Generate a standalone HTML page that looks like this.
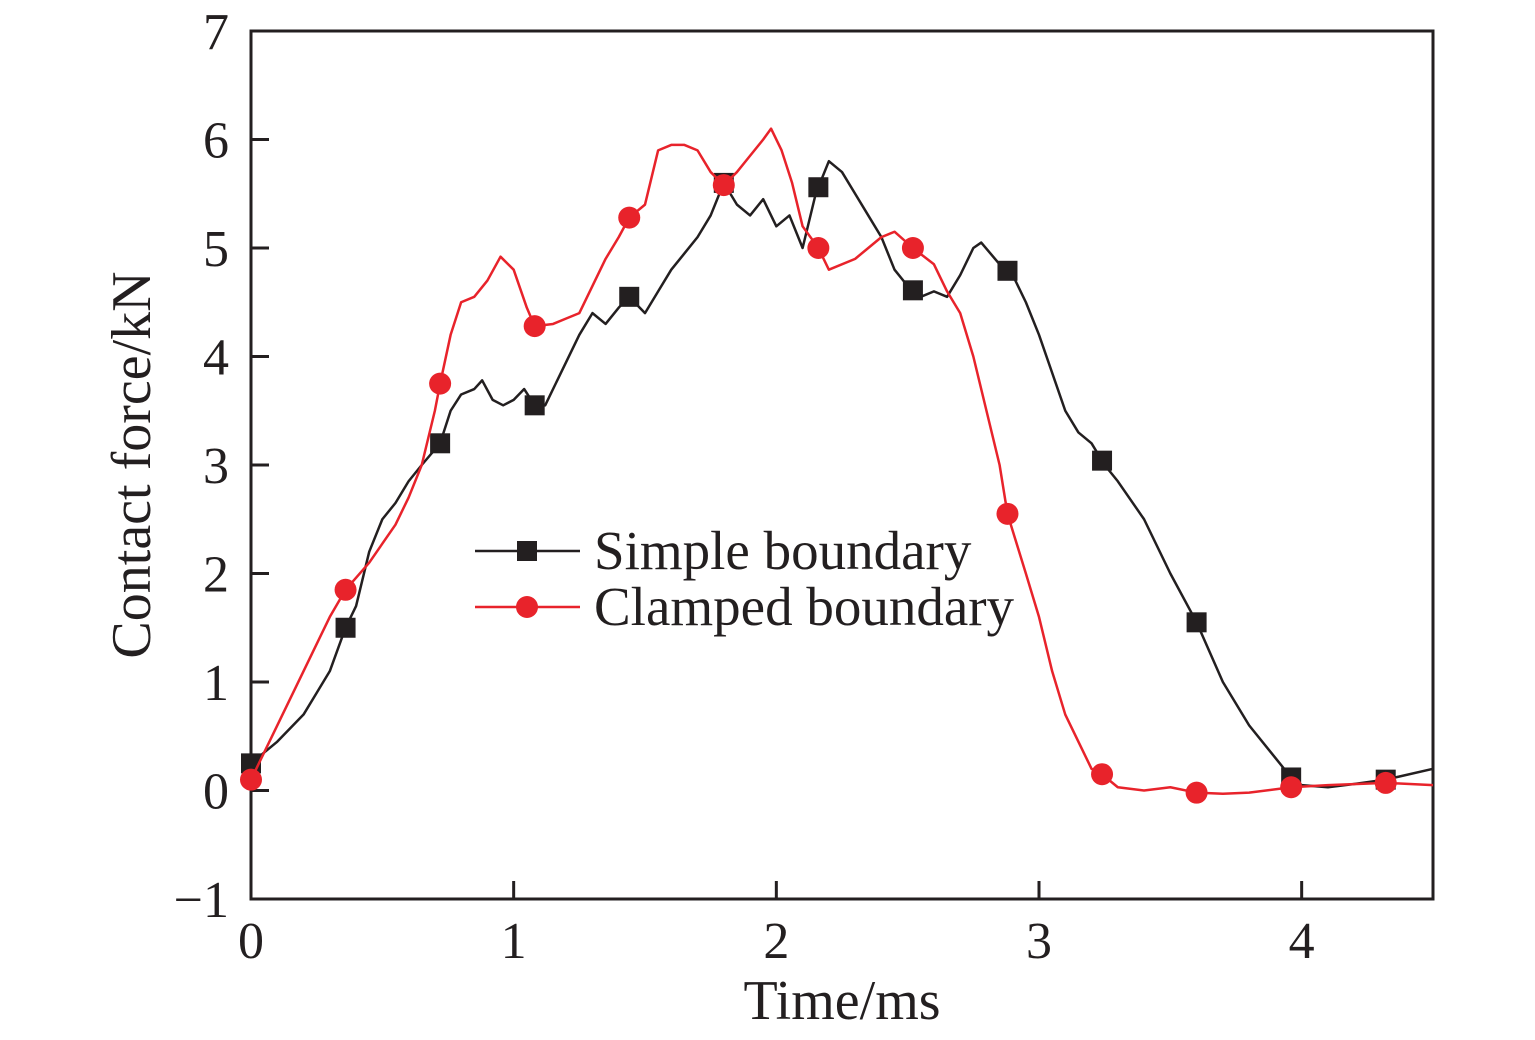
<!DOCTYPE html>
<html><head><meta charset="utf-8"><style>
html,body{margin:0;padding:0;background:#fff;}
svg text{font-family:"Liberation Serif",serif;fill:#231f20;}
</style></head><body>
<svg id="chart" width="1535" height="1035" viewBox="0 0 1535 1035" xmlns="http://www.w3.org/2000/svg">
<g id="plot"></g>
</svg>
<script>
const xTicks=[0,1,2,3,4];
const yTicks=[-1,0,1,2,3,4,5,6,7];
const yTickLabels=["\u22121","0","1","2","3","4","5","6","7"];
const simpleT=[0,0.1,0.2,0.25,0.3,0.36,0.4,0.45,0.5,0.55,0.6,0.65,0.72,0.76,0.8,0.85,0.88,0.92,0.96,1.0,1.04,1.08,1.12,1.16,1.2,1.25,1.3,1.35,1.4,1.44,1.5,1.55,1.6,1.65,1.7,1.75,1.8,1.85,1.9,1.95,2.0,2.05,2.1,2.15,2.2,2.25,2.3,2.35,2.4,2.45,2.5,2.55,2.6,2.65,2.7,2.75,2.78,2.85,2.9,2.95,3.0,3.05,3.1,3.15,3.2,3.25,3.3,3.4,3.5,3.6,3.7,3.8,3.9,3.96,4.0,4.1,4.2,4.32,4.5];
const simpleF=[0.25,0.45,0.7,0.9,1.1,1.5,1.7,2.2,2.5,2.65,2.85,3.0,3.2,3.5,3.65,3.7,3.78,3.6,3.55,3.6,3.7,3.55,3.55,3.75,3.95,4.2,4.4,4.3,4.45,4.55,4.4,4.6,4.8,4.95,5.1,5.3,5.6,5.4,5.3,5.45,5.2,5.3,5.0,5.5,5.8,5.7,5.5,5.3,5.1,4.8,4.65,4.55,4.6,4.55,4.75,5.0,5.05,4.85,4.75,4.5,4.2,3.85,3.5,3.3,3.2,3.0,2.85,2.5,2.0,1.55,1.0,0.6,0.3,0.12,0.05,0.03,0.06,0.1,0.2];
const clampT=[0,0.1,0.2,0.3,0.36,0.45,0.55,0.6,0.65,0.7,0.72,0.76,0.8,0.85,0.9,0.95,1.0,1.05,1.08,1.15,1.2,1.25,1.3,1.35,1.4,1.44,1.5,1.55,1.6,1.65,1.7,1.75,1.8,1.85,1.9,1.95,1.98,2.02,2.06,2.1,2.16,2.2,2.3,2.35,2.4,2.45,2.52,2.6,2.65,2.7,2.75,2.8,2.85,2.88,2.95,3.0,3.05,3.1,3.15,3.2,3.24,3.3,3.4,3.5,3.6,3.7,3.8,3.96,4.1,4.32,4.5];
const clampF=[0.1,0.6,1.1,1.6,1.85,2.1,2.45,2.7,3.0,3.5,3.75,4.2,4.5,4.55,4.7,4.92,4.8,4.45,4.28,4.3,4.35,4.4,4.65,4.9,5.1,5.28,5.4,5.9,5.95,5.95,5.9,5.7,5.58,5.7,5.85,6.0,6.1,5.9,5.6,5.2,5.0,4.8,4.9,5.0,5.1,5.15,5.0,4.85,4.6,4.4,4.0,3.5,3.0,2.55,2.0,1.6,1.1,0.7,0.45,0.2,0.15,0.03,0.0,0.03,-0.02,-0.03,-0.02,0.03,0.05,0.07,0.05];
const markerT=[0,0.36,0.72,1.08,1.44,1.8,2.16,2.52,2.88,3.24,3.6,3.96,4.32];

const X0=251,X1=1433,Y0=899,Y1=31;
const sx=t=>X0+(t-0)/(4.5-0)*(X1-X0);
const sy=v=>Y0-(v+1)/8*(Y0-Y1);
const NS="http://www.w3.org/2000/svg";
const g=document.getElementById('plot');
function mk(tag,attrs){const e=document.createElementNS(NS,tag);for(const k in attrs)e.setAttribute(k,attrs[k]);g.appendChild(e);return e;}
function interp(T,F,t){for(let i=0;i<T.length-1;i++){if(t>=T[i]&&t<=T[i+1]){return F[i]+(F[i+1]-F[i])*(t-T[i])/(T[i+1]-T[i]);}}return F[F.length-1];}

let fr=mk('rect',{x:X0,y:Y1,width:X1-X0,height:Y0-Y1,fill:'none',stroke:'#231f20','stroke-width':3});


xTicks.forEach(t=>{
 let l=mk('line',{x1:sx(t),x2:sx(t),y1:Y0,y2:Y0-18,stroke:'#231f20','stroke-width':3});
 
 
 let tx=mk('text',{x:sx(t),y:958,'font-size':52,'text-anchor':'middle'});tx.textContent=t;
 
 
});
yTicks.forEach((v,i)=>{
 let l=mk('line',{x1:X0,x2:X0+18,y1:sy(v),y2:sy(v),stroke:'#231f20','stroke-width':3});
 
 
 let tx=mk('text',{x:229,y:sy(v)+18,'font-size':52,'text-anchor':'end'});tx.textContent=yTickLabels[i];
 
 
});
let xt=mk('text',{x:842,y:1019,'font-size':56,'text-anchor':'middle'});xt.textContent='Time/ms';


let yt=mk('text',{x:150,y:465,'font-size':56,'text-anchor':'middle',transform:'rotate(-90 150 465)'});yt.textContent='Contact force/kN';



function series(T,F,color,name,shape){
 let p=mk('polyline',{points:T.map((t,i)=>sx(t)+','+sy(F[i])).join(' '),fill:'none',stroke:color,'stroke-width':2.5,'stroke-linejoin':'round'});
 
 
 markerT.forEach(t=>{
  const v=interp(T,F,t);let m;
  if(shape==='sq')m=mk('rect',{x:sx(t)-10,y:sy(v)-10,width:20,height:20,fill:color});
  else m=mk('circle',{cx:sx(t),cy:sy(v),r:11,fill:color});
  
  
 });
}
series(simpleT,simpleF,'#231f20','simple-boundary','sq');
series(clampT,clampF,'#e8232b','clamped-boundary','ci');

[['Simple boundary','#231f20','sq',551],['Clamped boundary','#e8232b','ci',607]].forEach(d=>{
 let l=mk('line',{x1:475,x2:580,y1:d[3],y2:d[3],stroke:d[1],'stroke-width':2.5});
 
 
 let m=d[2]==='sq'?mk('rect',{x:517,y:d[3]-10,width:20,height:20,fill:d[1]}):mk('circle',{cx:527,cy:d[3],r:11,fill:d[1]});
 
 
 let t=mk('text',{x:594,y:d[3]+18,'font-size':55});t.textContent=d[0];
 
 
});
</script>
</body></html>
